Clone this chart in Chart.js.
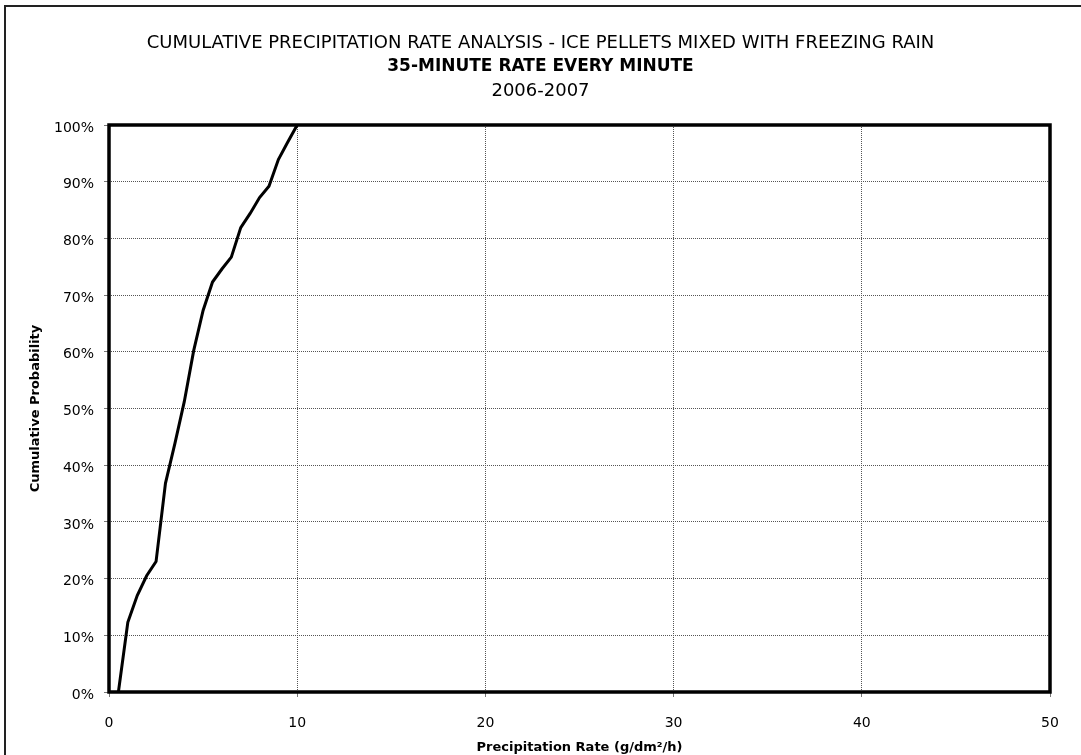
<!DOCTYPE html>
<html>
<head>
<meta charset="utf-8">
<script src="https://cdn.jsdelivr.net/npm/chart.js@4.4.0/dist/chart.umd.min.js"></script>
<style>
  html, body { margin: 0; padding: 0; background: #fff; }
  #wrap { width: 1081px; height: 755px; }
</style>
</head>
<body>
<div id="wrap"><canvas id="rateChart" width="1081" height="755"></canvas></div>
<script>
// cumulative probability (%) vs precipitation rate (g/dm2/h)
const rate = [0.5, 1.0, 1.5, 2.0, 2.5, 3.0, 3.5, 4.0, 4.5, 5.0, 5.5, 6.0, 6.5, 7.0, 7.5, 8.0, 8.5, 9.0, 9.5, 10.0];
const cumProb = [0, 12.3, 17, 20.5, 23, 36.8, 43.8, 51.2, 60.2, 67.3, 72.3, 74.6, 76.7, 81.9, 84.4, 87.2, 89.2, 93.9, 97, 100];
const xTicks = [0, 10, 20, 30, 40, 50];
const yTicks = [0, 10, 20, 30, 40, 50, 60, 70, 80, 90, 100];

const titleLines = [
  { text: 'CUMULATIVE PRECIPITATION RATE ANALYSIS - ICE PELLETS MIXED WITH FREEZING RAIN', weight: '', size: 18, y: 43 },
  { text: '35-MINUTE RATE EVERY MINUTE', weight: 'bold ', size: 17, y: 67 },
  { text: '2006-2007', weight: '', size: 18, y: 91 }
];

const FONT = '"DejaVu Sans", Verdana, sans-serif';

// white background, outer frame and the three title lines
const frame = {
  id: 'frame',
  beforeDraw(chart) {
    const c = chart.ctx;
    c.save();
    c.fillStyle = '#fff';
    c.fillRect(0, 0, chart.width, chart.height);
    c.strokeStyle = '#222';
    c.lineWidth = 2;
    c.beginPath();
    c.moveTo(5, chart.height);
    c.lineTo(5, 6);
    c.lineTo(chart.width, 6);
    c.stroke();
    c.fillStyle = '#000';
    c.textAlign = 'center';
    c.textBaseline = 'middle';
    titleLines.forEach(t => {
      c.font = t.weight + t.size + 'px ' + FONT;
      c.fillText(t.text, chart.width / 2, t.y);
    });
    c.restore();
  },
  afterDraw(chart) {
    const a = chart.chartArea;
    const c = chart.ctx;
    c.save();
    c.strokeStyle = '#000';
    c.lineWidth = 3.5;
    c.strokeRect(a.left, a.top, a.right - a.left, a.bottom - a.top);
    c.restore();
  }
};

new Chart(document.getElementById('rateChart'), {
  type: 'line',
  data: {
    datasets: [{
      label: 'Cumulative Probability',
      data: rate.map((r, i) => ({ x: r, y: cumProb[i] })),
      borderColor: '#000',
      borderWidth: 3,
      pointRadius: 0,
      tension: 0,
      fill: false,
      clip: false
    }]
  },
  options: {
    responsive: false,
    animation: false,
    layout: { padding: { top: 125, right: 31, left: 0, bottom: 0 } },
    plugins: {
      legend: { display: false },
      tooltip: { enabled: false }
    },
    scales: {
      x: {
        type: 'linear',
        min: 0,
        max: 50,
        afterFit(s) { s.height = 63; },
        afterBuildTicks(s) { s.ticks = xTicks.map(v => ({ value: v })); },
        grid: { color: '#555', tickColor: '#777', lineWidth: 1, tickLength: 5, drawTicks: true },
        border: { display: false, dash: [1, 1] },
        ticks: { color: '#000', font: { family: FONT, size: 14 }, padding: 18, maxRotation: 0 },
        title: { display: true, text: 'Precipitation Rate (g/dm²/h)', color: '#000', font: { family: FONT, size: 13, weight: 'bold' }, padding: { top: 0, bottom: 0 } }
      },
      y: {
        min: 0,
        max: 100,
        afterFit(s) { s.width = 109; },
        afterBuildTicks(s) { s.ticks = yTicks.map(v => ({ value: v })); },
        grid: { color: '#555', tickColor: '#777', lineWidth: 1, tickLength: 5, drawTicks: true },
        border: { display: false, dash: [1, 1] },
        ticks: { color: '#000', font: { family: FONT, size: 14 }, padding: 10, labelOffset: 3, callback: v => v + '%' },
        title: { display: true, text: 'Cumulative Probability', color: '#000', font: { family: FONT, size: 13, weight: 'bold' }, padding: { top: 28, bottom: 0 } }
      }
    }
  },
  plugins: [frame]
});
</script>
</body>
</html>
